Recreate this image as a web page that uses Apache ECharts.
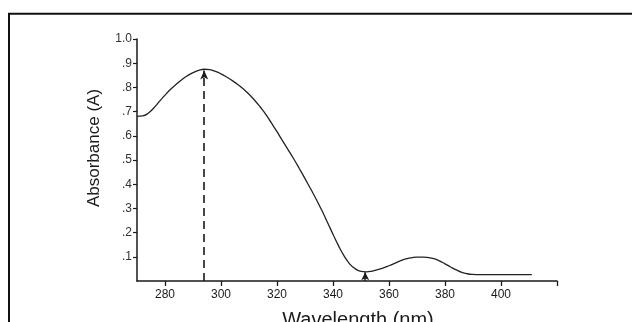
<!DOCTYPE html>
<html>
<head>
<meta charset="utf-8">
<script src="https://cdn.jsdelivr.net/npm/echarts@6/dist/echarts.min.js"></script>
<style>
html,body{margin:0;padding:0;background:#fff;overflow:hidden;}
#chart{width:632px;height:322px;}
</style>
</head>
<body>
<div id="chart"></div>
<script>
// Data
const wavelengths = [270,272,274,276,278,280,282,284,286,288,290,292,294,296,298,300,302,304,306,308,310,312,314,316,318,320,322,324,326,328,330,332,334,336,338,340,342,344,346,348,350,352,354,356,358,360,362,364,366,368,370,372,374,376,378,380,382,384,386,388,390,392,396,400,404,408,411];
const absorbance = [0.680,0.682,0.693,0.715,0.742,0.768,0.792,0.813,0.832,0.848,0.861,0.870,0.875,0.873,0.866,0.856,0.843,0.828,0.812,0.793,0.772,0.747,0.719,0.689,0.653,0.617,0.579,0.542,0.504,0.464,0.423,0.381,0.338,0.292,0.243,0.193,0.145,0.103,0.070,0.050,0.040,0.038,0.041,0.047,0.054,0.063,0.073,0.083,0.091,0.096,0.099,0.099,0.097,0.092,0.083,0.071,0.058,0.046,0.036,0.030,0.027,0.026,0.026,0.026,0.026,0.026,0.026];
const arrowWavelengths = [294, 351.5];
const arrowTops = [0.870, 0.036];
const xTickValues = [280,300,320,340,360,380,400,420];
const xLabelValues = [280,300,320,340,360,380,400];
const yTickValues = [0.1,0.2,0.3,0.4,0.5,0.6,0.7,0.8,0.9,1.0];
const yTickLabels = ['.1','.2','.3','.4','.5','.6','.7','.8','.9','1.0'];

const FONT = 'Liberation Sans, Arial, sans-serif';
const ink = '#1a1a1a';

const chart = echarts.init(document.getElementById('chart'), null, {renderer:'canvas'});
chart.setOption({
  backgroundColor: '#ffffff',
  animation: false,
  grid: {left:137, right:75, top:39, bottom:41, containLabel:false, outerBoundsMode:'none'},
  graphic: [{
    type:'rect', silent:true, z:100,
    shape:{x:9, y:13.7, width:700, height:400},
    style:{fill:'none', stroke:'#111', lineWidth:2}
  }],
  xAxis: {
    type:'value', min:270, max:420,
    name:'Wavelength (nm)', nameLocation:'middle', nameGap:29,
    nameTextStyle:{fontFamily:FONT, fontSize:20, color:ink, padding:[0,0,0,22]},
    axisLine:{show:true, onZero:false, lineStyle:{color:ink, width:1.5}},
    axisTick:{show:true, inside:false, length:5, customValues:xTickValues, lineStyle:{color:ink, width:1.3}},
    axisLabel:{show:true, customValues:xLabelValues, margin:8, fontFamily:FONT, fontSize:12, color:ink},
    splitLine:{show:false}
  },
  yAxis: {
    type:'value', min:0, max:1, interval:0.1,
    name:'Absorbance (A)', nameLocation:'middle', nameGap:34, nameRotate:90,
    nameTextStyle:{fontFamily:FONT, fontSize:17, color:ink, padding:[0,0,0,24]},
    axisLine:{show:true, onZero:false, lineStyle:{color:ink, width:1.5}},
    axisTick:{show:true, inside:false, length:4, customValues:yTickValues, lineStyle:{color:ink, width:1.2}},
    axisLabel:{show:true, customValues:yTickValues, margin:5, fontFamily:FONT, fontSize:12, color:'#333',
      formatter: function(v){ const i = yTickValues.findIndex(t => Math.abs(t - v) < 1e-6); return i >= 0 ? yTickLabels[i] : ''; }},
    splitLine:{show:false}
  },
  series: [{
    type:'line',
    data: wavelengths.map((w,i)=>[w, absorbance[i]]),
    smooth:true, showSymbol:false, symbol:'none',
    lineStyle:{color:'#222', width:1.3},
    markLine:{
      silent:true,
      label:{show:false},
      data:[
        [{coord:[arrowWavelengths[0],0], symbol:'none'},{coord:[arrowWavelengths[0],arrowTops[0]], symbol:'arrow', symbolSize:[6,9], lineStyle:{type:[8,5], color:ink, width:1.6}}],
        [{coord:[arrowWavelengths[1],0], symbol:'none'},{coord:[arrowWavelengths[1],arrowTops[1]], symbol:'arrow', symbolSize:[6,8], lineStyle:{type:'solid', color:ink, width:1.5}}]
      ],
      lineStyle:{color:ink}
    }
  }]
});
</script>
</body>
</html>
